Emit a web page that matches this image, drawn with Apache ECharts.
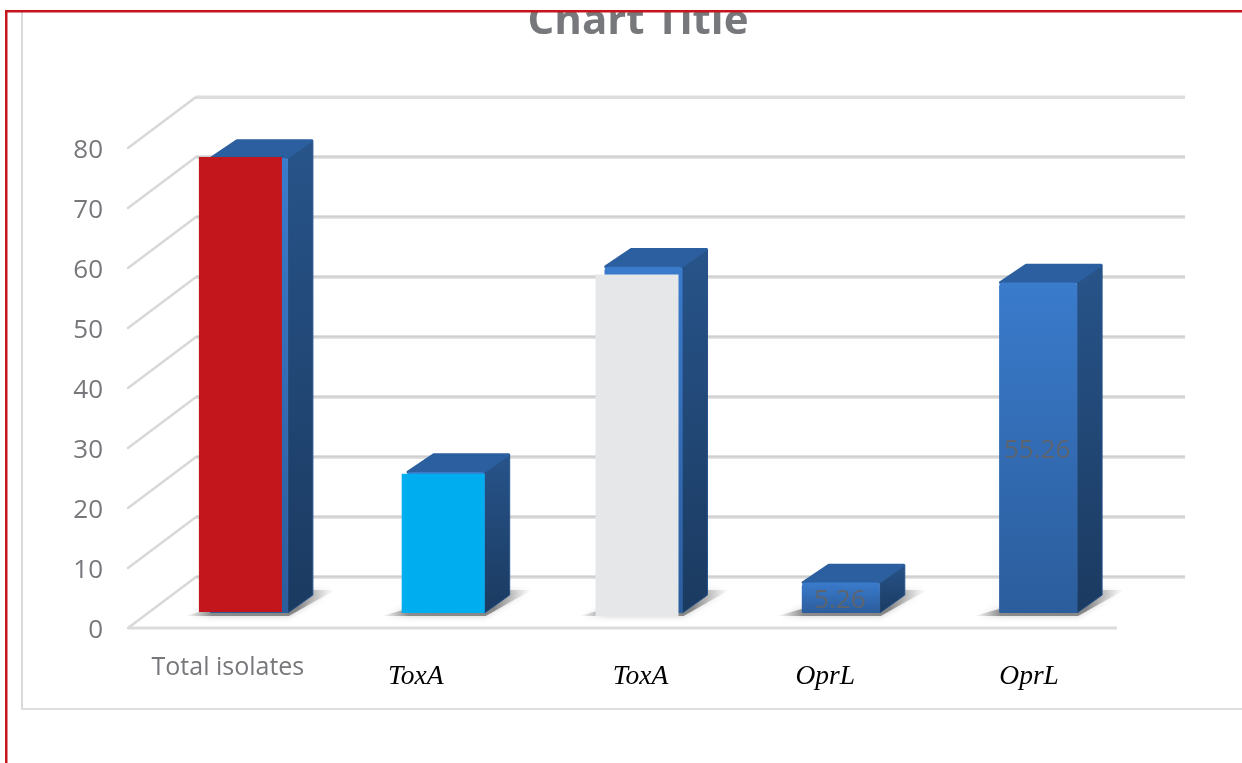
<!DOCTYPE html>
<html>
<head>
<meta charset="utf-8">
<style>html,body{margin:0;padding:0;background:#fff}#c{width:1242px;height:763px}</style>
<script src="https://cdn.jsdelivr.net/npm/echarts@6/dist/echarts.min.js"></script>
</head>
<body>
<div id="c"></div>
<script>
var categories = ['Total isolates', 'ToxA', 'ToxA', 'OprL', 'OprL'];
var barValues = [76, 23.68, 57.89, 5.26, 55.26];
var coverValues = [76, 23.2, 56.4, null, null];
var coverColors = ['#c3161c', '#00aeef', '#e6e7e8', null, null];
var yTicks = [0, 10, 20, 30, 40, 50, 60, 70, 80];

var chart = echarts.init(document.getElementById('c'), null, {renderer: 'canvas'});

// geometry of the pseudo-3D view, in pixels
var WALL_DX = 68, WALL_DY = -51;
var BAR_DX = 21, BAR_DY = -15, BAR_W = 78, DEPTH_X = 25, DEPTH_Y = -17.5;
var BAR_NUDGE = [2, 1, 1, 0.5, 0];
var COVER_SHIFT = [-11, -5, -9, 0, 0], COVER_BOTTOM = [-1, 0, 3, 0, 0];

function grad(a, b) {
  return new echarts.graphic.LinearGradient(0, 0, 0, 1, [{offset: 0, color: a}, {offset: 1, color: b}]);
}

function renderWall(params, api) {
  var v = api.value(1);
  var cs = params.coordSys;
  var y = api.coord([0, v])[1];
  var x0 = cs.x, x1 = cs.x + cs.width;
  var children = [];
  children.push({type: 'line', shape: {x1: x0, y1: y, x2: x0 + WALL_DX, y2: y + WALL_DY},
    style: {stroke: '#d8d8d8', lineWidth: 2.5, lineCap: 'round'}});
  children.push({type: 'rect', shape: {x: x0 + WALL_DX, y: y + WALL_DY - 1.5, width: x1 - x0, height: 3.5},
    style: {fill: v === 80 ? '#dddddd' : grad('#c4c4c4', '#e8e8e8')}});
  if (v === 0) {
    children.push({type: 'rect', shape: {x: x0, y: y - 1.5, width: x1 - x0, height: 3}, style: {fill: '#dcdcdc'}});
  }
  return {type: 'group', children: children};
}

function renderBar(params, api) {
  var i = params.dataIndex;
  var v = api.value(1);
  var base = api.coord([i, 0]);
  var top = api.coord([i, v]);
  var L = base[0] + BAR_DX - BAR_W / 2 - 1 + BAR_NUDGE[i], R = L + BAR_W;
  var B = base[1] + BAR_DY, T = top[1] + BAR_DY + 1;
  var cover = coverValues[i];
  var kids = [];
  // floor shadow: soft, darkest next to the bar, fading at both tips
  kids.push({type: 'polygon',
    shape: {points: [[L - 25, B + 3], [R + 1, B + 3], [R + 47, B - 23], [R + 20, B - 23], [L, B - 4]]},
    style: {
      fill: new echarts.graphic.LinearGradient(0, 0, 1, 0, [
        {offset: 0, color: 'rgba(150,150,150,0)'},
        {offset: 0.18, color: 'rgba(125,125,125,0.85)'},
        {offset: 0.75, color: 'rgba(120,120,120,0.85)'},
        {offset: 1, color: 'rgba(170,170,170,0)'}
      ]),
      shadowBlur: 6, shadowColor: 'rgba(170,170,170,0.7)'
    }});
  // side face
  kids.push({type: 'polygon',
    shape: {points: [[R, T], [R + DEPTH_X, T + DEPTH_Y], [R + DEPTH_X, B - 18], [R, B]]},
    style: {fill: grad('#27548a', '#1b3a60'), stroke: '#27548a', lineWidth: 1, lineJoin: 'round'}});
  // top face
  kids.push({type: 'polygon',
    shape: {points: [[L + 1, T], [L + DEPTH_X + 2, T + DEPTH_Y], [R + DEPTH_X - 1, T + DEPTH_Y], [R - 1, T]]},
    style: {fill: '#2b5f9f', stroke: '#2b5f9f', lineWidth: 2.5, lineJoin: 'round'}});
  // front face
  kids.push({type: 'rect', shape: {x: L, y: T, width: BAR_W, height: B - T, r: [4, 4, 1, 1]},
    style: {fill: grad('#3a7bcc', '#2b5d9c')}});
  if (cover != null) {
    var cTop = api.coord([i, cover])[1] + BAR_DY;
    kids.push({type: 'rect',
      shape: {x: L + COVER_SHIFT[i], y: cTop, width: 83, height: B + COVER_BOTTOM[i] - cTop},
      style: {fill: coverColors[i]}});
  } else {
    kids.push({type: 'text',
      style: {x: (L + R) / 2 - 1, y: (T + B) / 2 + 3, text: String(v), align: 'center', verticalAlign: 'middle',
        fill: '#5d646e', font: '26px "Open Sans"'}});
  }
  return {type: 'group', children: kids};
}

chart.setOption({
  animation: false,
  backgroundColor: '#ffffff',
  title: {
    text: 'Chart Title', left: 633, top: -4, textAlign: 'center',
    textStyle: {fontFamily: 'Open Sans', fontWeight: 'bold', fontSize: 42, color: '#76787b'}
  },
  grid: {left: 128, right: 125, top: 148, bottom: 135, containLabel: false},
  xAxis: {
    type: 'category', data: categories,
    axisLine: {show: false}, axisTick: {show: false}, splitLine: {show: false},
    axisLabel: {
      interval: 0, margin: 27, hideOverlap: false,
      formatter: function (val, i) {
        if (i === 0) return '{g|' + val + '}';
        return '{s' + i + '|' + val + '}';
      },
      rich: {
        g: {fontFamily: 'Open Sans', fontSize: 25, color: '#76787b', padding: [0, 0, 0, 2]},
        s1: {fontFamily: 'Liberation Serif', fontStyle: 'italic', fontSize: 27.5, color: '#000', padding: [8, 18, 0, 0]},
        s2: {fontFamily: 'Liberation Serif', fontStyle: 'italic', fontSize: 27.5, color: '#000', padding: [8, 0, 0, 36]},
        s3: {fontFamily: 'Liberation Serif', fontStyle: 'italic', fontSize: 27.5, color: '#000', padding: [8, 0, 0, 10]},
        s4: {fontFamily: 'Liberation Serif', fontStyle: 'italic', fontSize: 27.5, color: '#000', padding: [8, 0, 0, 22]}
      }
    }
  },
  yAxis: {
    type: 'value', min: 0, max: 80, interval: 10,
    axisLine: {show: false}, axisTick: {show: false}, splitLine: {show: false},
    axisLabel: {margin: 25, fontFamily: 'Open Sans', fontSize: 26, color: '#76787b',
      formatter: '{n|{value}}', rich: {n: {fontFamily: 'Open Sans', fontSize: 26, color: '#76787b', padding: [6, 0, 0, 0]}}}
  },
  series: [
    {type: 'custom', name: 'wall', z: 1, clip: false, silent: true,
      data: yTicks.map(function (t) { return [0, t]; }),
      encode: {x: 0, y: 1}, renderItem: renderWall},
    {type: 'custom', name: 'isolates', z: 2, clip: false,
      data: barValues.map(function (v, i) { return [i, v]; }),
      encode: {x: 0, y: 1}, renderItem: renderBar}
  ],
  graphic: [
    {type: 'rect', z: 100, shape: {x: 0, y: 0, width: 1242, height: 10}, style: {fill: '#ffffff'}},
    {type: 'rect', z: 101, shape: {x: 21, y: 12, width: 2, height: 697}, style: {fill: '#d9d9d9'}},
    {type: 'rect', z: 101, shape: {x: 21, y: 708, width: 1221, height: 2}, style: {fill: '#dedede'}},
    {type: 'rect', z: 102, shape: {x: 5, y: 10, width: 1237, height: 2.5}, style: {fill: '#c4161c'}},
    {type: 'rect', z: 102, shape: {x: 5, y: 10, width: 2.5, height: 753}, style: {fill: '#c4161c'}}
  ]
});
</script>
</body>
</html>
